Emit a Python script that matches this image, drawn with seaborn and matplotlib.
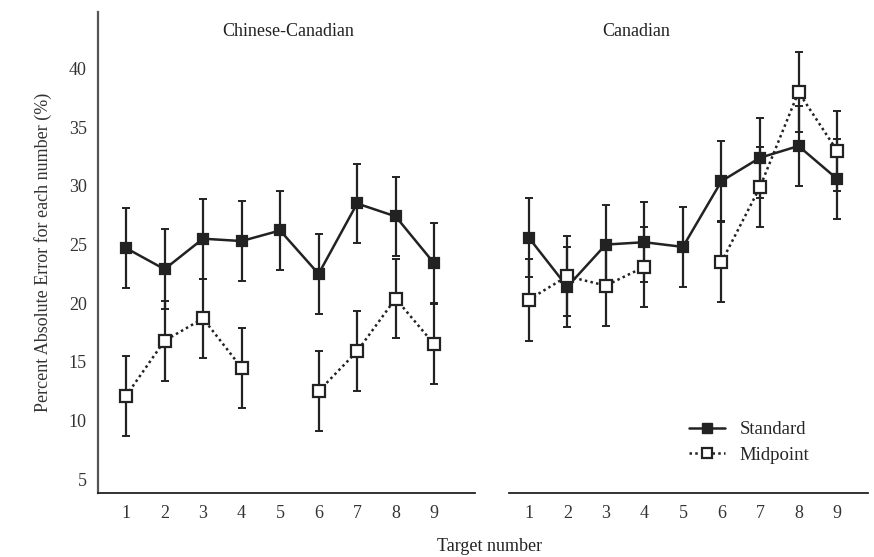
import matplotlib
matplotlib.use("Agg")
import matplotlib.pyplot as plt
from matplotlib.lines import Line2D
import seaborn as sns
import pandas as pd
import numpy as np

targets = [1, 2, 3, 4, 5, 6, 7, 8, 9]
panels = ["Chinese-Canadian", "Canadian"]

# Chinese-Canadian
cc_standard = [24.7, 22.9, 25.5, 25.3, 26.2, 22.5, 28.5, 27.4, 23.4]
cc_standard_err = [3.4, 3.4, 3.4, 3.4, 3.4, 3.4, 3.4, 3.4, 3.4]
cc_midpoint = [12.1, 16.8, 18.7, 14.5, np.nan, 12.5, 15.9, 20.4, 16.5]
cc_midpoint_err = [3.4, 3.4, 3.4, 3.4, np.nan, 3.4, 3.4, 3.4, 3.4]

# Canadian
ca_standard = [25.6, 21.4, 25.0, 25.2, 24.8, 30.4, 32.4, 33.4, 30.6]
ca_standard_err = [3.4, 3.4, 3.4, 3.4, 3.4, 3.4, 3.4, 3.4, 3.4]
ca_midpoint = [20.3, 22.3, 21.5, 23.1, np.nan, 23.5, 29.9, 38.0, 33.0]
ca_midpoint_err = [3.5, 3.4, 3.4, 3.4, np.nan, 3.4, 3.4, 3.4, 3.4]

yticks = [5, 10, 15, 20, 25, 30, 35, 40]
ylabel = "Percent Absolute Error for each number (%)"
xlabel = "Target number"

INK = "#222222"


def long_frame(panel, condition, values, errs):
    df = pd.DataFrame({"panel": panel, "condition": condition, "target": targets,
                       "value": values, "err": errs})
    # break the line wherever a value is missing
    df["seg"] = df["value"].isna().cumsum()
    return df


data = pd.concat([
    long_frame(panels[0], "Standard", cc_standard, cc_standard_err),
    long_frame(panels[0], "Midpoint", cc_midpoint, cc_midpoint_err),
    long_frame(panels[1], "Standard", ca_standard, ca_standard_err),
    long_frame(panels[1], "Midpoint", ca_midpoint, ca_midpoint_err),
], ignore_index=True)

sns.set_style("white")
plt.rcParams["font.family"] = ["Liberation Serif", "DejaVu Serif"]
plt.rcParams["font.size"] = 13

fig = plt.figure(figsize=(8.74, 5.57), dpi=100)
ax_left = fig.add_axes([0.112, 0.115, 0.431, 0.863])
ax_right = fig.add_axes([0.582, 0.115, 0.411, 0.863])

styles = {
    "Standard": dict(ls="-", mfc=INK, ms=7),
    "Midpoint": dict(ls=(0, (1, 1.3)), mfc="white", ms=8.5),
}

for ax, panel, xlim in [(ax_left, panels[0], (0.27, 10.05)), (ax_right, panels[1], (0.48, 9.8))]:
    sub = data[data["panel"] == panel].dropna(subset=["value"])
    for cond in ["Standard", "Midpoint"]:
        d = sub[sub["condition"] == cond]
        ax.errorbar(d["target"], d["value"], yerr=d["err"], fmt="none", ecolor=INK,
                    elinewidth=1.6, capsize=3, capthick=1.4, zorder=1)
        sns.lineplot(data=d, x="target", y="value", units="seg", estimator=None,
                     color=INK, lw=1.8, linestyle=styles[cond]["ls"], marker="s",
                     markersize=styles[cond]["ms"], markerfacecolor=styles[cond]["mfc"],
                     markeredgecolor=INK, markeredgewidth=1.6, ax=ax, zorder=3)

    ax.set_xlim(*xlim)
    ax.set_ylim(3.83, 44.8)
    ax.set_xticks(targets)
    ax.set_xlabel("")
    ax.set_ylabel("")
    ax.tick_params(axis="both", length=0, labelsize=13, colors="#333333")
    ax.tick_params(axis="x", pad=9)
    ax.tick_params(axis="y", pad=8)
    for s in ["top", "right"]:
        ax.spines[s].set_visible(False)
    ax.spines["bottom"].set_color(INK)
    ax.spines["bottom"].set_linewidth(1.3)

ax_left.set_yticks(yticks)
ax_left.spines["left"].set_color("#555555")
ax_left.spines["left"].set_linewidth(1.6)
ax_left.set_ylabel(ylabel, fontsize=13, labelpad=12, color="#333333")

ax_right.spines["left"].set_visible(False)
ax_right.set_yticks([])

ax_left.text(5.2, 43.2, panels[0], ha="center", va="center", fontsize=13, color="#222222")
ax_right.text(3.8, 43.2, panels[1], ha="center", va="center", fontsize=13, color="#222222")

fig.text(0.56, 0.018, xlabel, ha="center", va="center", fontsize=13, color="#222222")

handles = [
    Line2D([], [], color=INK, lw=1.8, ls="-", marker="s", ms=6.5, mfc=INK, mec=INK),
    Line2D([], [], color=INK, lw=1.8, ls=(0, (1, 1.3)), marker="s", ms=7.5, mfc="white",
           mec=INK, mew=1.6),
]
ax_right.legend(handles, ["Standard", "Midpoint"], loc="lower right",
                bbox_to_anchor=(0.885, 0.025), frameon=False, fontsize=13.5,
                handlelength=1.9, handletextpad=0.8, labelspacing=0.45)

fig.savefig("out.png", dpi=100)
